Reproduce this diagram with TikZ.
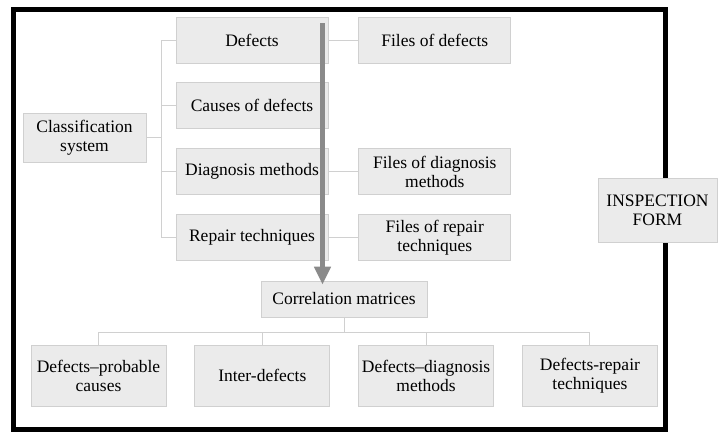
\documentclass[tikz,border=0pt]{standalone}
\usepackage{fontspec}
\setmainfont{Liberation Serif}
\usetikzlibrary{positioning,arrows.meta}
\definecolor{boxfill}{HTML}{EBEBEB}
\definecolor{boxline}{HTML}{D0D0D0}
\definecolor{flowgray}{HTML}{8A8A8A}
\newcommand{\brw}[2]{\draw[link] (#1.west) -- (#1.west -| #2); }
\newcommand{\brn}[2]{\draw[link] (#1.north) -- (#1.north |- #2); }

\begin{document}
\begin{tikzpicture}[x=1pt,y=-1pt,node distance=19pt,
  every node/.style={font=\fontsize{17.5}{19}\selectfont,text=black,align=center,inner sep=2pt},
  box/.style={draw=boxline,fill=boxfill,line width=0.8pt,minimum width=152pt,minimum height=46pt},
  matbox/.style={box,minimum width=135pt,minimum height=61pt},
  link/.style={draw=boxline,line width=0.9pt},
  flow/.style={draw=flowgray,line width=5pt,-{Triangle[width=16pt,length=18pt]}}]
  \useasboundingbox (0,0) rectangle (722,431);
  % outer frame
  \draw[line width=4.5pt] (13.5,9.5) rectangle (665.5,429.5);
  % classification tree
  \node[box] (defects) at (252,40) {Defects};
  \node[box] (causes) [below=of defects] {Causes of defects};
  \node[box] (diag) [below=of causes] {Diagnosis methods};
  \node[box] (repair) [below=of diag] {Repair techniques};
  \node[box] (fdefects) [right=30pt of defects] {Files of defects};
  \node[box] (fdiag) [right=30pt of diag] {Files of diagnosis\\methods};
  \node[box] (frepair) [right=30pt of repair] {Files of repair\\techniques};
  \node[box,minimum width=123pt,minimum height=49pt] (class) at (84.5,137.5) {Classification\\system};
  \coordinate (bus) at (161,0);
  \draw[link] (class.east) -- (class.east -| bus);
  \draw[link] (defects.west -| bus) -- (repair.west -| bus);
  \foreach \n in {defects,causes,diag,repair} {\brw{\n}{bus}}
  \draw[link] (defects) -- (fdefects);
  \draw[link] (diag) -- (fdiag);
  \draw[link] (repair) -- (frepair);
  % correlation matrices
  \node[box,minimum width=166pt,minimum height=36pt] (corr) at (344,299) {Correlation matrices};
  \node[matbox] (mcauses) at (98.5,375.5) {Defects--probable\\causes};
  \node[matbox] (minter) [right=28pt of mcauses] {Inter-defects};
  \node[matbox] (mdiag) [right=28pt of minter] {Defects--diagnosis\\methods};
  \node[matbox] (mrepair) [right=28pt of mdiag] {Defects-repair\\techniques};
  \coordinate (mbus) at (0,332);
  \draw[link] (corr.south) -- (corr.south |- mbus);
  \draw[link] (mcauses.north |- mbus) -- (mrepair.north |- mbus);
  \foreach \n in {mcauses,minter,mdiag,mrepair} {\brn{\n}{mbus}}
  \coordinate (ftop) at (322.5,23);
  \draw[flow,shorten >=-4pt] (ftop) -- (corr.north -| ftop);
  % inspection form on the frame
  \node[box,minimum width=119pt,minimum height=64pt] (insp) at (657.5,210) {INSPECTION\\FORM};
\end{tikzpicture}
\end{document}
